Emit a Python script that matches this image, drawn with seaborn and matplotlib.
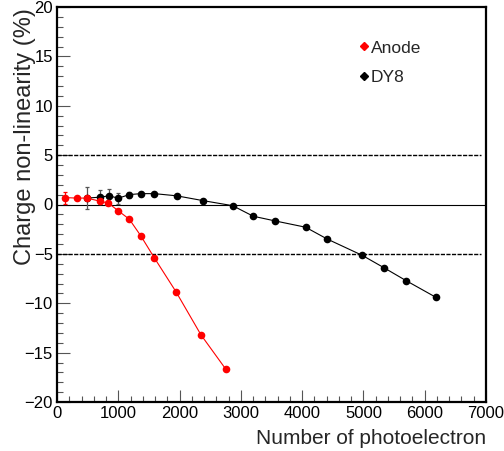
import matplotlib
matplotlib.use("Agg")
import matplotlib.pyplot as plt
from matplotlib.lines import Line2D
from matplotlib.ticker import MultipleLocator
import seaborn as sns
import pandas as pd

# Anode readings
anode_npe = [130, 321, 484, 701, 838, 1000, 1180, 1365, 1588, 1941, 2349, 2757]
anode_nl = [0.7, 0.65, 0.65, 0.34, 0.14, -0.64, -1.49, -3.15, -5.4, -8.83, -13.2, -16.7]
anode_err = [0.6, 0, 0, 0, 0, 0, 0, 0, 0, 0, 0, 0]

# DY8 readings
dy8_npe = [484, 701, 848, 1000, 1180, 1365, 1588, 1952, 2376, 2866, 3203, 3556,
           4056, 4410, 4981, 5334, 5693, 6183]
dy8_nl = [0.65, 0.74, 0.88, 0.64, 1.0, 1.1, 1.1, 0.88, 0.4, -0.12, -1.19, -1.66,
          -2.3, -3.5, -5.15, -6.4, -7.7, -9.4]
dy8_err = [1.15, 0.7, 0.7, 0.55, 0.3, 0.2, 0.15, 0.1, 0.1, 0.1, 0.1, 0.1,
           0.1, 0.1, 0.1, 0.1, 0.1, 0.1]

df_anode = pd.DataFrame({'npe': anode_npe, 'nl': anode_nl, 'err': anode_err})
df_dy8 = pd.DataFrame({'npe': dy8_npe, 'nl': dy8_nl, 'err': dy8_err})

sns.set_theme(style="white")
plt.rcParams['font.family'] = ['Liberation Sans', 'DejaVu Sans']

fig = plt.figure(figsize=(5.04, 4.51), dpi=100)
ax = fig.add_axes([57/504, 1 - 402/451, (486-57)/504, (402-7)/451])

# reference lines
ax.axhline(0, color='black', lw=0.8, zorder=1)
for yv in [5, -5]:
    ax.hlines(yv, 0, 6920, colors='black', linestyles=(0, (3, 1)), lw=1.0, zorder=1)

# DY8 first so the anode sits on top
ax.errorbar(df_dy8['npe'], df_dy8['nl'], yerr=df_dy8['err'], fmt='none',
            ecolor='#555555', elinewidth=0.9, capsize=1.5, capthick=0.9, zorder=2)
sns.lineplot(data=df_dy8, x='npe', y='nl', ax=ax, sort=False, color='black',
             lw=0.8, marker='o', markersize=5.5, markeredgewidth=0, zorder=3)

ax.errorbar(df_anode['npe'], df_anode['nl'], yerr=df_anode['err'], fmt='none',
            ecolor='red', elinewidth=0.9, capsize=1.5, capthick=0.9, zorder=4)
sns.lineplot(data=df_anode, x='npe', y='nl', ax=ax, sort=False, color='red',
             lw=0.8, marker='o', markersize=5.5, markeredgewidth=0, zorder=5)

ax.set_xlim(0, 7000)
ax.set_ylim(-20, 20)
ax.xaxis.set_major_locator(MultipleLocator(1000))
ax.xaxis.set_minor_locator(MultipleLocator(200))
ax.yaxis.set_major_locator(MultipleLocator(5))
ax.yaxis.set_minor_locator(MultipleLocator(1))
ax.tick_params(which='major', direction='in', length=9, width=0.8, color='#555555',
               labelsize=12, labelcolor='black', pad=3)
ax.tick_params(which='minor', direction='in', length=4.5, width=0.8, color='#555555')
ax.tick_params(axis='both', which='both', bottom=True, left=True, top=False, right=False)

for side in ['left', 'bottom', 'top', 'right']:
    ax.spines[side].set_color('black')
    ax.spines[side].set_linewidth(1.6)

ax.set_xlabel('Number of photoelectron', fontsize=15, loc='right', labelpad=6)
ax.set_ylabel('Charge non-linearity (%)', fontsize=17, loc='top')
ax.yaxis.set_label_coords(-0.05, 0.998)

handles = [Line2D([], [], color='red', marker='D', markersize=4, lw=0),
           Line2D([], [], color='black', marker='D', markersize=4, lw=0)]
ax.legend(handles, ['Anode', 'DY8'], loc='upper left', bbox_to_anchor=(0.67, 0.955),
          frameon=False, fontsize=12.5, handlelength=0.4, handletextpad=0.2,
          labelspacing=0.85)

fig.savefig('out.png', dpi=100)
